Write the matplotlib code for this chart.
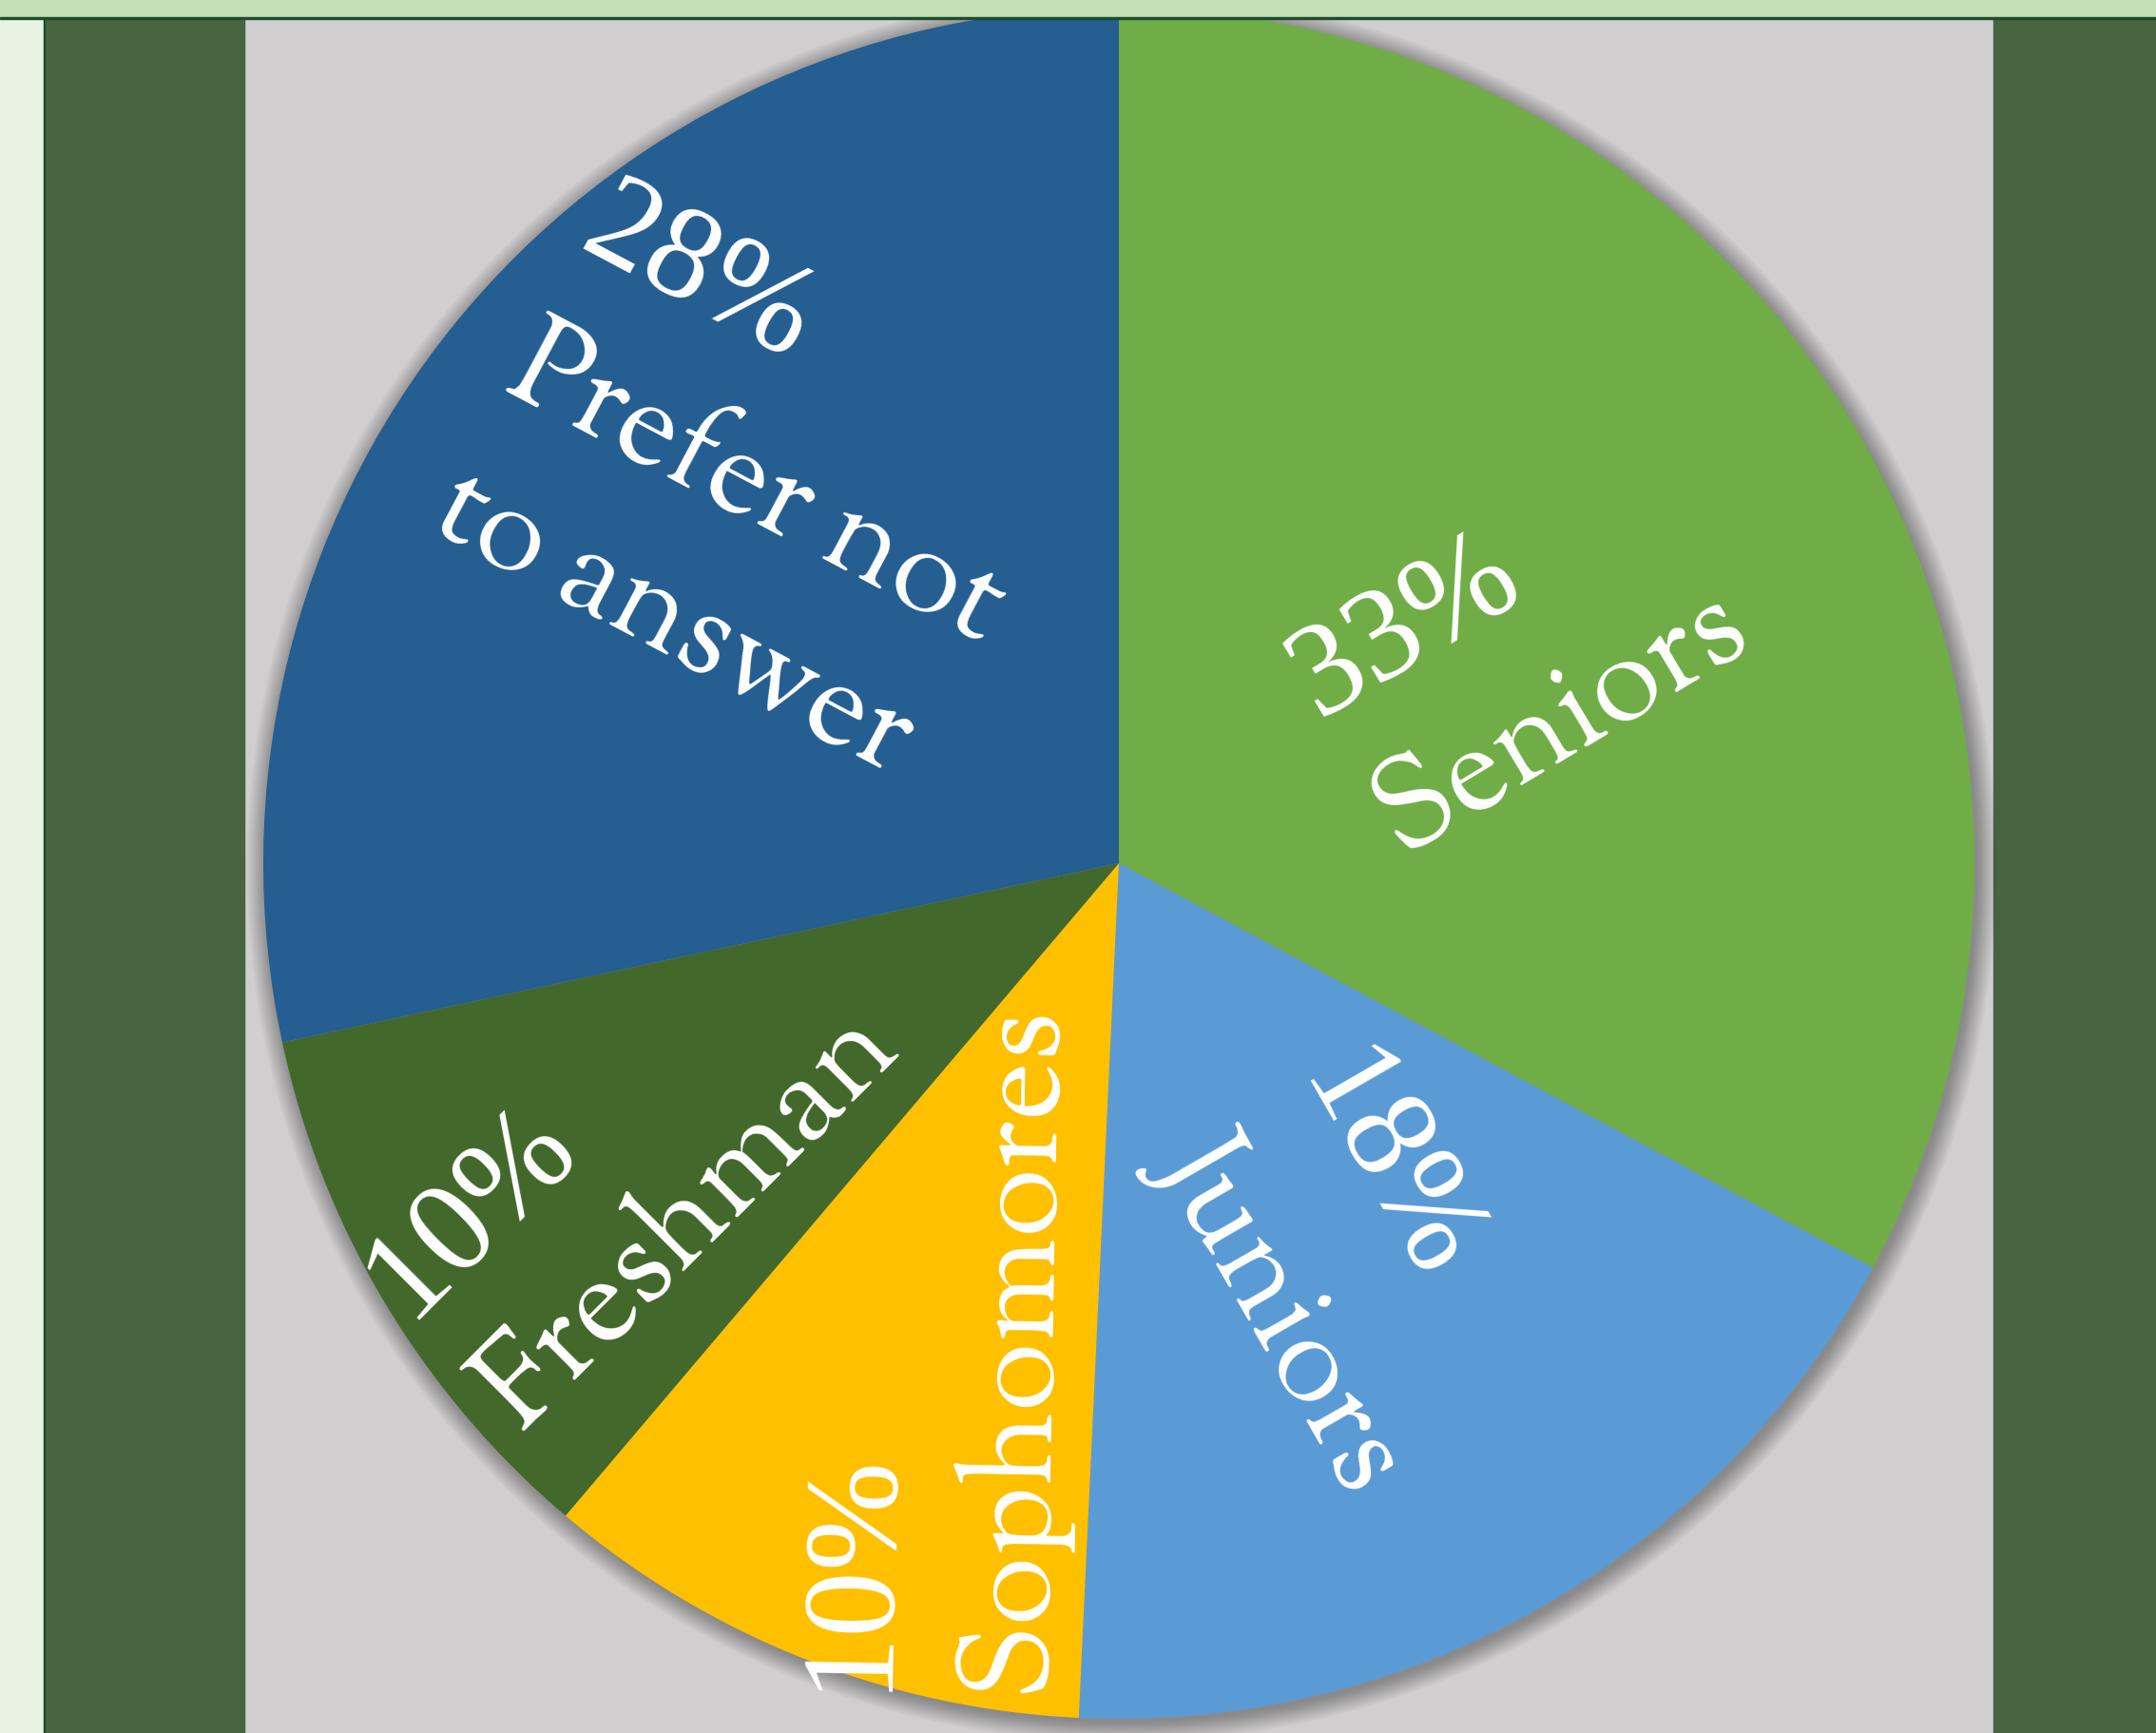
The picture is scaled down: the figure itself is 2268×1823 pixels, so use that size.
import numpy as np
import matplotlib
matplotlib.use("Agg")
import matplotlib.pyplot as plt
from matplotlib.patches import Rectangle, Circle

# Werte (Anzahl Antworten je Gruppe)
categories = ["Seniors", "Juniors", "Sophomores", "Freshman", "Prefer not\nto answer"]
counts = [22, 12, 7, 7, 19]
colors = ["#70AD47", "#5B9BD5", "#FFC000", "#43682B", "#255E91"]

# Lage der Beschriftungen: Radius (Anteil), Winkelversatz zur Segmentmitte, Drehung
label_radius = [0.53, 0.55, 0.60, 0.665, 0.605]
label_shift = [-4.8, -1.2, 2.1, 2.0, -5.8]
label_rotation = [31, -60, 89, 45, -28]

# Goudy-Nachbau fuer Woerter, Ziffern in Versalziffern (Liberation Serif)
name_family = ["Sorts Mill Goudy", "Liberation Serif", "DejaVu Serif"]
digit_family = ["Liberation Serif", "DejaVu Serif"]
FS = 96                      # Punkt (Woerter)
FS_DIGITS = 100              # Punkt (Prozentzahl)
EM = FS * 100 / 72           # Pixel
LEAD = 1.25 * EM

W, H = 2268, 1823
cx, cy, R = 1177, H - 908, 900

fig = plt.figure(figsize=(W / 100, H / 100), dpi=100)
ax = fig.add_axes([0, 0, 1, 1])

# Hintergrund-Streifen
ax.add_patch(Rectangle((0, 0), W, H, color="#D0CECF", zorder=0))
ax.add_patch(Rectangle((0, 0), 46, H, color="#E8F4E1", zorder=0.5))
ax.add_patch(Rectangle((46, 0), 2, H, color="#0F4A26", zorder=0.5))
ax.add_patch(Rectangle((48, 0), 209, H, color="#466440", zorder=0.5))
ax.add_patch(Rectangle((2097, 0), W - 2097, H, color="#466440", zorder=0.5))

# weicher Schatten um den Kreis
for i in range(18):
    ax.add_patch(Circle((cx + 3, cy - 4), R + 1.2 * i, color="black",
                        alpha=0.02, lw=0, zorder=1))

wedges, _ = ax.pie(counts, colors=colors, startangle=90, counterclock=False,
                   radius=R, center=(cx, cy), frame=True,
                   wedgeprops=dict(linewidth=0))
for w in wedges:
    w.set_zorder(2)

ax.set_xlim(0, W)
ax.set_ylim(0, H)
ax.set_aspect("equal")
ax.axis("off")

# Beschriftungen: erst ungedreht anlegen, Breite messen, dann platzieren
total = sum(counts)
groups = []
for name, n in zip(categories, counts):
    lines = [f"{round(100 * n / total)}%"] + name.split("\n")
    texts = []
    for j, s in enumerate(lines):
        fam = digit_family if j == 0 else name_family
        size = FS_DIGITS if j == 0 else FS
        texts.append(ax.text(0, 0, s, color="white", family=fam, fontsize=size,
                             ha="left", va="baseline", rotation_mode="anchor",
                             zorder=5))
    groups.append(texts)

fig.canvas.draw()
renderer = fig.canvas.get_renderer()

for w, texts, rf, dth, rot in zip(wedges, groups, label_radius,
                                  label_shift, label_rotation):
    mid = np.deg2rad((w.theta1 + w.theta2) / 2 + dth)
    c = np.array([cx + rf * R * np.cos(mid), cy + rf * R * np.sin(mid)])
    a = np.deg2rad(rot)
    u = np.array([np.cos(a), np.sin(a)])
    nv = np.array([-np.sin(a), np.cos(a)])
    maxw = max(t.get_window_extent(renderer).width for t in texts)
    k = len(texts)
    for i, t in enumerate(texts):
        p = c + (((k - 1) / 2 - i) * LEAD - 0.15 * EM) * nv - (maxw / 2) * u
        t.set_position((p[0], p[1]))
        t.set_rotation(rot)

# oberer Streifen ueber dem Kreis
ax.add_patch(Rectangle((0, H - 18), W, 18, color="#C5E0B4", zorder=6))
ax.add_patch(Rectangle((0, H - 20), W, 2.5, color="#1E4D2B", zorder=6))

fig.savefig("out.png", dpi=100)
